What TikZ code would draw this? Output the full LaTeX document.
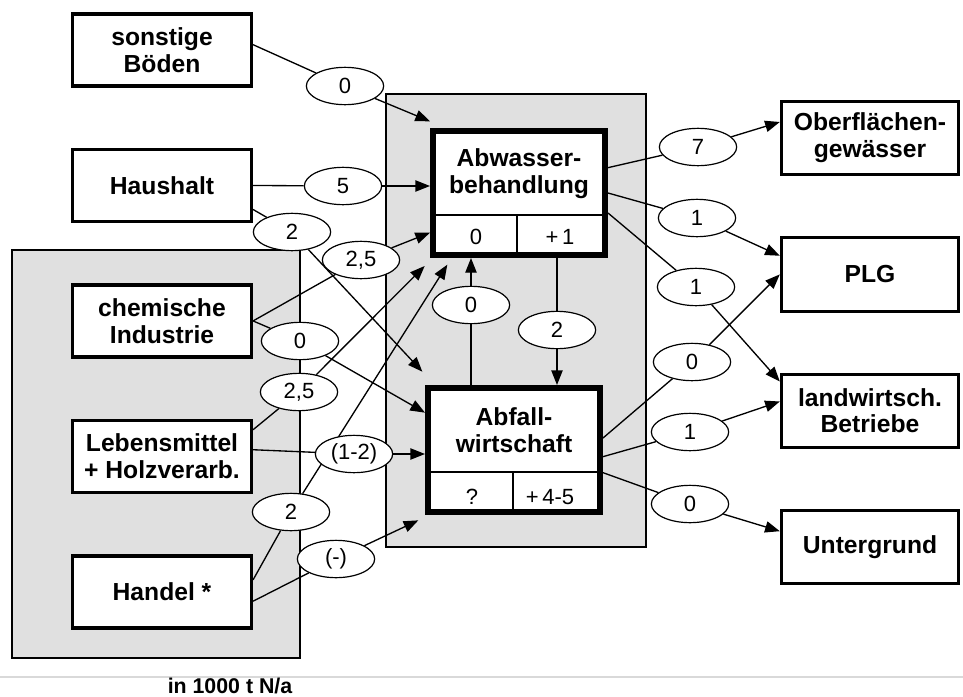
\documentclass[tikz,border=0pt]{standalone}
\usepackage{fontspec}
\setmainfont{Liberation Sans}
\usetikzlibrary{arrows.meta,positioning,shapes.geometric}
\pgfdeclarelayer{bg}
\pgfdeclarelayer{lines}
\pgfsetlayers{bg,lines,main}

\begin{document}
\begin{tikzpicture}[
    x=0.75pt, y=-0.75pt,
    node distance=45pt,
    srcbox/.style={draw, fill=white, line width=2.6pt, minimum width=134pt, minimum height=54pt, inner sep=0pt, align=center, font=\fontsize{18.5}{20}\selectfont\bfseries},
    sinkbox/.style={srcbox, line width=2.3pt, minimum width=133pt, minimum height=55pt},
    procbox/.style={draw, fill=white, line width=4.5pt, minimum width=129pt, minimum height=93pt},
    proclabel/.style={align=center, inner sep=0pt, font=\fontsize{18.5}{20}\selectfont\bfseries},
    flowval/.style={ellipse, draw, fill=white, line width=0.9pt, minimum width=58pt, minimum height=28pt, inner sep=0pt, font=\fontsize{16.5}{18}\selectfont},
    cellval/.style={inner sep=1pt, font=\fontsize{16.5}{18}\selectfont},
    conn/.style={line width=1pt},
    arrow/.style={-{Triangle[length=11pt,width=8.5pt]}, line width=1pt},
    zone/.style={draw, line width=0.8pt, fill=black!12}
  ]
    \useasboundingbox (0,0) rectangle (963,696);

    \node[srcbox] (sonst) at (162,50) {sonstige\\Böden};
    \node[srcbox, below=of sonst] (haus) {Haushalt};
    \node[srcbox, below=of haus] (chem) {chemische\\Industrie};
    \node[srcbox, below=of chem] (leb) {Lebensmittel\\+ Holzverarb.};
    \node[srcbox, below=of leb] (hand) {Handel *};

    \node[procbox] (abw) at (519,193) {};
    \node[proclabel] (abwname) at (519,174) {Abwasser-\\behandlung};
    \node[cellval] (abwin) at (476,237) {0};
    \node[cellval] (abwout) at (560,237) {+\,1};
    \node[procbox] (abf) at (514,450) {};
    \node[proclabel] (abfname) at (514,430) {Abfall-\\wirtschaft};
    \node[cellval] (abfin) at (472,497) {?};
    \node[cellval] (abfout) at (550,497) {+\,4-5};
    \draw[line width=1pt] (abw.west |- 0,215) -- (abw.east |- 0,215);
    \draw[line width=1pt] (517,215) -- (abw.south -| 517,0);
    \draw[line width=1pt] (abf.west |- 0,472) -- (abf.east |- 0,472);
    \draw[line width=1pt] (513,472) -- (abf.south -| 513,0);

    \node[sinkbox] (ob) at (870,138) {Oberflächen-\\gewässer};
    \node[sinkbox, below=of ob] (plg) {PLG};
    \node[sinkbox, below=of plg] (lw) {landwirtsch.\\Betriebe};
    \node[sinkbox, below=of lw] (ug) {Untergrund};

    \node[flowval] (e0a) at (345,86) {0};
    \node[flowval] (e5) at (343,186) {5};
    \node[flowval] (e2a) at (292,232) {2};
    \node[flowval] (e25a) at (361,260) {2,5};
    \node[flowval] (e0m) at (300,341) {0};
    \node[flowval] (e25b) at (299,392) {2,5};
    \node[flowval] (e12) at (354,454) {(1-2)};
    \node[flowval] (e2b) at (291,512) {2};
    \node[flowval] (eneg) at (336,559) {(-)};
    \node[flowval] (e0c) at (471,305) {0};
    \node[flowval] (e2c) at (557,330) {2};
    \node[flowval] (e7) at (698,147) {7};
    \node[flowval] (e1a) at (697,218) {1};
    \node[flowval] (e1b) at (696,287) {1};
    \node[flowval] (e0r) at (692,362) {0};
    \node[flowval] (e1c) at (690,432) {1};
    \node[flowval] (e0u) at (690,504) {0};

    \node[font=\fontsize{16}{18}\selectfont\bfseries] (unit) at (230,686) {in 1000 t N/a};

    \begin{pgfonlayer}{bg}
      \draw[zone] (12,250) rectangle (300,658);
      \draw[zone] (386,94) rectangle (646,547);
      \draw[black!15, line width=1.5pt] (0,677) -- (963,677);
    \end{pgfonlayer}

    \begin{pgfonlayer}{lines}
      \draw[conn] ([yshift=4pt]sonst.east) -- (e0a);
      \draw[arrow] (e0a) -- ([yshift=5pt]abw.north west);
      \draw[conn] (haus.east) -- (e5);
      \draw[arrow] (e5) -- (abw.west |- e5);
      \draw[conn] ([yshift=-18pt]haus.east) -- (e2a);
      \draw[arrow] (e2a) -- ([xshift=-2pt,yshift=10pt]abf.north west);
      \draw[conn] (chem.east) -- (e25a);
      \draw[arrow] (e25a) -- ([yshift=19pt]abw.south west);
      \draw[conn] (chem.east) -- (e0m);
      \draw[arrow] (e0m) -- ([yshift=28pt]abf.west);
      \draw[conn] ([yshift=20pt]leb.east) -- (e25b);
      \draw[arrow] (e25b) -- ([xshift=-4pt,yshift=-6pt]abw.south west);
      \draw[conn] ([yshift=5pt]leb.east) -- (e12);
      \draw[arrow] (e12) -- (abf.west |- e12);
      \draw[conn] ([yshift=9pt]hand.east) -- (e2b);
      \draw[arrow] (e2b) -- ([xshift=13pt,yshift=-5pt]abw.south west);
      \draw[conn] ([yshift=-7pt]hand.east) -- (eneg);
      \draw[arrow] (eneg) -- ([xshift=-5pt,yshift=-4pt]abf.south west);

      \draw[conn] (abf.north -| e0c) -- (e0c);
      \draw[arrow] (e0c) -- (abw.south -| e0c);
      \draw[conn] (abw.south -| e2c) -- (e2c);
      \draw[arrow] (e2c) -- (abf.north -| e2c);

      \draw[conn] ([yshift=19pt]abw.east) -- (e7);
      \draw[arrow] (e7) -- ([yshift=12pt]ob.west);
      \draw[conn] (abw.east) -- (e1a);
      \draw[arrow] (e1a) -- ([yshift=14pt]plg.west);
      \draw[conn] ([yshift=-15pt]abw.east) -- (e1b);
      \draw[arrow] (e1b) -- ([yshift=22pt]lw.west);
      \draw[conn] ([yshift=9pt]abf.east) -- (e0r);
      \draw[arrow] (e0r) -- (plg.west);
      \draw[conn] ([yshift=-5pt]abf.east) -- (e1c);
      \draw[arrow] (e1c) -- ([yshift=7pt]lw.west);
      \draw[conn] ([yshift=-17pt]abf.east) -- (e0u);
      \draw[arrow] (e0u) -- ([yshift=12pt]ug.west);
    \end{pgfonlayer}
  \end{tikzpicture}
\end{document}
